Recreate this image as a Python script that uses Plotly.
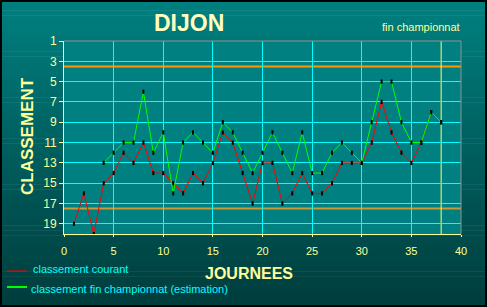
import plotly.graph_objects as go

# ---- data ----
journees_courant = list(range(1, 39))
classement_courant = [19, 16, 20, 15, 14, 12, 13, 11, 14, 14,
                      15, 16, 14, 15, 13, 10, 11, 14, 17, 13,
                      13, 17, 16, 14, 16, 16, 15, 13, 13, 13,
                      11, 7, 10, 12, 13, 11, 8, 9]
journees_fin = list(range(4, 39))
classement_fin = [13, 12, 11, 11, 6, 12, 10, 16, 11, 10,
                  11, 12, 9, 10, 12, 14, 12, 10, 12, 14,
                  10, 14, 14, 12, 11, 12, 13, 9, 5, 5,
                  9, 11, 11, 8, 9]
x_ticks = [0, 5, 10, 15, 20, 25, 30, 35, 40]
y_ticks = [1, 3, 5, 7, 9, 11, 13, 15, 17, 19]
ligne_europe = 3.5
ligne_relegation = 17.5
derniere_journee = 38

W, H = 487, 307
L, R, T, B = 64, 26, 41, 73
PW, PH = W - L - R, H - T - B

def px(x):
    return (x - L) / PW

def py(y):
    return (H - B - y) / PH

FONT = "Liberation Sans, Arial, sans-serif"
YEL = "#ffff99"

fig = go.Figure()
fig.add_trace(go.Scatter(
    x=journees_courant, y=classement_courant, mode="lines+markers",
    line=dict(color="#ff0000", width=1),
    marker=dict(symbol="line-ns", size=3, line=dict(color="black", width=2)),
    showlegend=False, hoverinfo="skip"))
fig.add_trace(go.Scatter(
    x=journees_fin, y=classement_fin, mode="lines+markers",
    line=dict(color="#00ff00", width=1),
    marker=dict(symbol="line-ns", size=3, line=dict(color="black", width=2)),
    showlegend=False, hoverinfo="skip"))

shapes = []
# gradient background stripes
N = 60
for i in range(N):
    y0 = i * H / N
    y1 = (i + 1) * H / N + 0.5
    t = (i + 0.5) / N
    g = int(round(128 - t * 68))
    shapes.append(dict(type="rect", xref="paper", yref="paper",
                       x0=px(0), x1=px(W), y0=py(y1), y1=py(y0),
                       fillcolor=f"rgb(0,{g},{g})", line=dict(width=0),
                       layer="below"))
# plot area background
shapes.append(dict(type="rect", xref="paper", yref="paper", x0=0, x1=1, y0=0, y1=1,
                   fillcolor="#008080", line=dict(width=0), layer="below"))
# outer black border
shapes.append(dict(type="rect", xref="paper", yref="paper",
                   x0=px(1), x1=px(W - 1), y0=py(H - 1), y1=py(1),
                   line=dict(color="black", width=2), layer="above"))
# reference lines
shapes.append(dict(type="line", xref="paper", yref="y", x0=0, x1=1,
                   y0=ligne_europe, y1=ligne_europe,
                   line=dict(color="#ff9900", width=2), layer="between"))
shapes.append(dict(type="line", xref="paper", yref="y", x0=0, x1=1,
                   y0=ligne_relegation, y1=ligne_relegation,
                   line=dict(color="#cc9933", width=2), layer="between"))
shapes.append(dict(type="line", xref="x", yref="paper", x0=derniere_journee,
                   x1=derniere_journee, y0=0, y1=1,
                   line=dict(color="#ffff66", width=1), layer="between"))
# grey top & right border
shapes.append(dict(type="line", xref="paper", yref="paper", x0=0, x1=1, y0=1, y1=1,
                   line=dict(color="#909090", width=1), layer="above"))
shapes.append(dict(type="line", xref="paper", yref="paper", x0=1, x1=1, y0=0, y1=1,
                   line=dict(color="#909090", width=1), layer="above"))
# legend samples
shapes.append(dict(type="line", xref="paper", yref="paper", x0=px(7), x1=px(27),
                   y0=py(271), y1=py(271), line=dict(color="#ff0000", width=1)))
shapes.append(dict(type="line", xref="paper", yref="paper", x0=px(7), x1=px(27),
                   y0=py(287), y1=py(287), line=dict(color="#00ff00", width=2)))

def ann(text, x, y, size, color, xanchor="center", angle=0):
    return dict(text=text, x=px(x), y=py(y), xref="paper", yref="paper",
                xanchor=xanchor, yanchor="middle", showarrow=False, textangle=angle,
                font=dict(size=size, color=color, family=FONT))

annotations = [
    ann("<b>DIJON</b>", 189, 23, 23, "#ffffc0"),
    ann("fin championnat", 420.5, 27, 11, YEL),
    ann("<b>CLASSEMENT</b>", 27, 136, 17, YEL, angle=-90),
    ann("<b>JOURNEES</b>", 248.5, 273.5, 16, YEL),
    ann("classement courant", 31, 269, 11, "#00ffff", xanchor="left"),
    ann("classement fin championnat (estimation)", 29, 288.5, 11, "#00ffff", xanchor="left"),
]

fig.update_layout(
    width=W, height=H,
    margin=dict(l=L, r=R, t=T, b=B, autoexpand=False),
    paper_bgcolor="rgba(0,0,0,0)",
    plot_bgcolor="rgba(0,0,0,0)",
    shapes=shapes, annotations=annotations,
    showlegend=False,
    xaxis=dict(range=[0, 40], tickvals=x_ticks, showgrid=True, gridcolor="#00ffff",
               gridwidth=1, zeroline=False, showline=True, linecolor="#ffff99",
               linewidth=1, ticks="outside", ticklen=2, tickcolor="#ffff99",
               ticklabelstandoff=5,
               tickfont=dict(size=11, color=YEL, family=FONT), automargin=False),
    yaxis=dict(range=[20, 1], tickvals=y_ticks, showgrid=True, gridcolor="#00ffff",
               gridwidth=1, zeroline=False, showline=True, linecolor="#ffff99",
               linewidth=1, ticks="outside", ticklen=4, tickcolor="#ffff99",
               tickfont=dict(size=12, color=YEL, family=FONT), automargin=False),
)

fig.write_html("out.html")
